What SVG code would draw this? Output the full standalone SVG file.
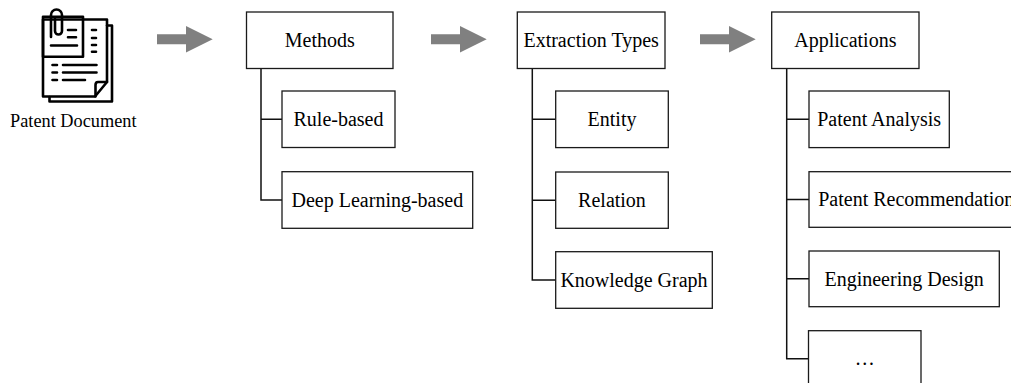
<svg xmlns="http://www.w3.org/2000/svg" width="1011" height="383" viewBox="0 0 1011 383">
<style>
.box{fill:#fff;stroke:#1a1a1a;stroke-width:1.3}
.lbl{font-family:"Liberation Serif","Times New Roman",serif;font-size:20px;fill:#000;text-anchor:middle}
.conn{fill:none;stroke:#111;stroke-width:1.5}
.arr{fill:#808080}
.ic{fill:none;stroke:#000;stroke-width:2.6;stroke-linejoin:round;stroke-linecap:round}
</style>
<defs>
<path id="bigarrow" d="M0 -5 H29 V-13.3 L55.7 0 L29 13.3 V5 H0 Z"/>
</defs>
<rect width="1011" height="383" fill="#fff"/>

<g id="patent-document">
  <path class="ic" d="M107 25.5 H112 V101.5 H49.5 V97"/>
  <path class="ic" fill="#fff" d="M43 19.5 H107 V82 L95 96.5 H43 Z"/>
  <path class="ic" d="M107 82 H98 Q95.5 82 95.5 85 V96.5"/>
  <rect class="ic" x="43" y="16.7" width="40" height="40" fill="#fff"/>
  <path class="ic" d="M51 37 V15 A5.5 5.5 0 0 1 62 15 V31 A3.5 3.5 0 0 1 55 31 V19"/>
  <path class="ic" d="M68 30 H76 M68 37.3 H76 M51 45.5 H77"/>
  <path class="ic" d="M92 30 H96 M92 38 H96 M92 45 H96 M92 51.7 H96"/>
  <path class="ic" d="M52.5 65 H57 M63 65 H96.5 M52.5 72.5 H57 M63 72.5 H96.5 M52.5 80 H57 M63 80 H85"/>
  <text x="73.3" y="126.7" style="font-family:'Liberation Serif','Times New Roman',serif;font-size:18.3px;text-anchor:middle">Patent Document</text>
</g>

<g id="arrows">
  <use href="#bigarrow" class="arr" x="157" y="39.3"/>
  <use href="#bigarrow" class="arr" x="431" y="39.3"/>
  <use href="#bigarrow" class="arr" x="700" y="39.3"/>
</g>

<g id="connectors">
  <path class="conn" d="M261 68.5 V200 H282 M261 119.3 H282"/>
  <path class="conn" d="M532.3 68.5 V280 H555.7 M532.3 119.3 H555.7 M532.3 200.2 H555.7"/>
  <path class="conn" d="M786.7 68.5 V358.8 H808.5 M786.7 119.3 H809 M786.7 199.5 H809 M786.7 278.8 H809"/>
</g>

<g id="methods">
  <rect class="box" x="246.5" y="12" width="146.5" height="56.5"/>
  <text class="lbl" x="319.75" y="46.5">Methods</text>
</g>
<g id="rule-based">
  <rect class="box" x="282" y="91" width="113" height="56.5"/>
  <text class="lbl" x="338.5" y="125.8">Rule-based</text>
</g>
<g id="deep-learning-based">
  <rect class="box" x="282" y="171.7" width="190.7" height="56.6"/>
  <text class="lbl" x="377.35" y="206.5">Deep Learning-based</text>
</g>

<g id="extraction-types">
  <rect class="box" x="517.3" y="12" width="147.7" height="56.5"/>
  <text class="lbl" x="591.15" y="46.5">Extraction Types</text>
</g>
<g id="entity">
  <rect class="box" x="555.7" y="91" width="112.6" height="56.6"/>
  <text class="lbl" x="612" y="125.8">Entity</text>
</g>
<g id="relation">
  <rect class="box" x="555.7" y="172" width="112.6" height="56.3"/>
  <text class="lbl" x="612" y="206.6">Relation</text>
</g>
<g id="knowledge-graph">
  <rect class="box" x="555.7" y="251.7" width="156.6" height="56.6"/>
  <text class="lbl" x="634" y="286.5">Knowledge Graph</text>
</g>

<g id="applications">
  <rect class="box" x="771.7" y="12" width="147.3" height="56.5"/>
  <text class="lbl" x="845.35" y="46.5">Applications</text>
</g>
<g id="patent-analysis">
  <rect class="box" x="809" y="91" width="140.3" height="56.6"/>
  <text class="lbl" x="879.15" y="125.8">Patent Analysis</text>
</g>
<g id="patent-recommendation">
  <rect class="box" x="809" y="171.7" width="211" height="55.6"/>
  <text class="lbl" x="916.3" y="206">Patent Recommendation</text>
</g>
<g id="engineering-design">
  <rect class="box" x="809" y="251" width="190.3" height="55.7"/>
  <text class="lbl" x="904.15" y="285.5">Engineering Design</text>
</g>
<g id="more">
  <rect class="box" x="808.5" y="330.7" width="112.5" height="56.5"/>
  <text class="lbl" x="864.75" y="365">…</text>
</g>
</svg>
